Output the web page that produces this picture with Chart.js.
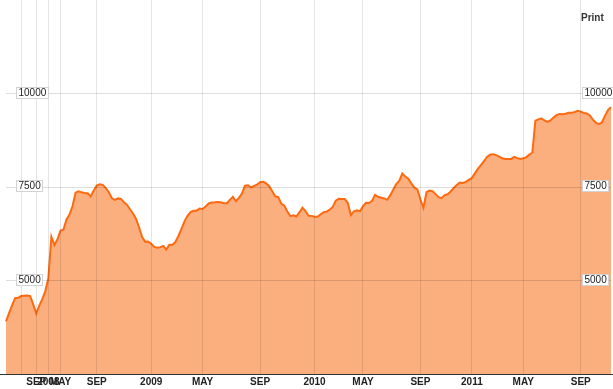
<!DOCTYPE html>
<html>
<head>
<meta charset="utf-8">
<script src="https://cdn.jsdelivr.net/npm/chart.js@4/dist/chart.umd.min.js"></script>
<style>
	html, body { margin:0; padding:0; background:#fff; }
	.box { width:613px; height:389px; position:relative; }
</style>
</head>
<body>
<div class="box"><canvas id="myChart"></canvas></div>
<script>
// --------------------- data ------------------ //
const values = [
	3908,4129,4336,4528,4536,4584,4592,4600,4582,4360,4115,4331,4504,4717,5058,6172,5948,6095,6329,6364,
	6633,6761,6990,7347,7387,7357,7341,7336,7246,7408,7536,7571,7557,7472,7360,7198,7155,7195,7182,7094,
	7024,6905,6793,6646,6417,6159,6039,6044,5985,5898,5876,5892,5924,5826,5959,5959,6033,6191,6380,6582,
	6729,6830,6865,6868,6923,6913,6979,7059,7086,7091,7099,7094,7067,7067,7155,7235,7120,7211,7325,7536,
	7546,7488,7531,7563,7626,7637,7595,7520,7384,7251,7232,7056,7003,6846,6721,6745,6713,6819,6950,6857,
	6731,6728,6705,6705,6769,6825,6841,6894,6968,7136,7184,7176,7176,7075,6750,6849,6875,6852,6982,7078,
	7070,7128,7291,7240,7211,7195,7158,7275,7424,7581,7664,7861,7781,7720,7595,7483,7437,7166,6945,7360,
	7405,7389,7310,7230,7203,7283,7304,7379,7472,7552,7619,7608,7635,7690,7741,7864,7983,8087,8189,8303,
	8362,8378,8354,8311,8269,8247,8250,8250,8303,8271,8250,8266,8295,8370,8423,9273,9308,9337,9278,9241,
	9278,9358,9422,9454,9446,9457,9483,9483,9507,9537,9515,9478,9467,9411,9302,9217,9180,9225,9401,9555,
	9635
];
// month gridlines: index of the point + text under it
const tickIdx  = [5, 10, 14, 18, 30, 48, 65, 84, 102, 118, 137, 154, 171, 190];
const tickText = ['', 'SEP', '2008', 'MAY', 'SEP', '2009', 'MAY', 'SEP', '2010', 'MAY', 'SEP', '2011', 'MAY', 'SEP'];
// value labels drawn in boxes on both sides
const yLabels = [5000, 7500, 10000];

const labels = values.map((v, i) => {
	let k = tickIdx.indexOf(i);
	return k < 0 ? '' : tickText[k];
});

const narrow = '"Liberation Sans Narrow", "Arial Narrow", Arial, sans-serif';

// boxes, bottom line, Print
const extras = {
	id: 'extras',
	afterDraw(chart) {
		const c = chart.ctx;
		const y = chart.scales.y;
		const area = chart.chartArea;
		c.save();
		c.fillStyle = '#333';
		c.fillRect(0, Math.round(area.bottom), 613, 1);

		c.font = '10px ' + narrow;
		c.textBaseline = 'middle';
		yLabels.forEach(v => {
			let py = Math.round(y.getPixelForValue(v)) - 1;
			let t = String(v);
			let w = Math.round(c.measureText(t).width) + 5;
			[16, 582].forEach(px => {
				c.fillStyle = '#fff';
				c.fillRect(px, py - 6, w, 12);
				c.strokeStyle = '#d2d2d2';
				c.lineWidth = 1;
				c.strokeRect(px + 0.5, py - 5.5, w - 1, 11);
				c.fillStyle = '#222';
				c.fillText(t, px + 2.5, py + 0.5);
			});
		});

		c.font = 'bold 10px Arial, "Liberation Sans", sans-serif';
		c.fillStyle = '#333';
		c.textBaseline = 'alphabetic';
		c.fillText('Print', 581, 21);
		c.restore();
	}
};

const ctx = document.getElementById('myChart');

new Chart(ctx, {
	type: 'line',
	data: {
		labels: labels,
		datasets: [{
			data: values,
			borderColor: '#ff6a10',
			borderWidth: 2,
			backgroundColor: '#fbae7e',
			fill: 'start',
			pointRadius: 0,
			tension: 0
		}]
	},
	options: {
		responsive: true,
		maintainAspectRatio: false,
		animation: false,
		layout: { padding: { left: 6, right: 1, top: 0, bottom: 0 } },
		plugins: { legend: { display: false }, tooltip: { enabled: false } },
		scales: {
			x: {
				afterFit: s => { s.height = 15; },
				border: { display: false },
				grid: {
					z: 1,
					drawTicks: false,
					color: c => tickIdx.includes(c.index) ? 'rgba(0,0,0,0.1)' : 'transparent'
				},
				ticks: {
					autoSkip: false,
					maxRotation: 0,
					minRotation: 0,
					padding: 2,
					color: '#222',
					font: { family: narrow, size: 10, weight: 'bold' },
					callback: (v, i) => labels[i]
				}
			},
			y: {
				min: 2500,
				max: 12500,
				afterFit: s => { s.width = 0; },
				border: { display: false },
				grid: {
					z: 1,
					drawTicks: false,
					color: c => yLabels.includes(c.tick.value) ? 'rgba(0,0,0,0.13)' : 'transparent'
				},
				ticks: { display: false, stepSize: 2500 }
			}
		}
	},
	plugins: [extras]
});
</script>
</body>
</html>
